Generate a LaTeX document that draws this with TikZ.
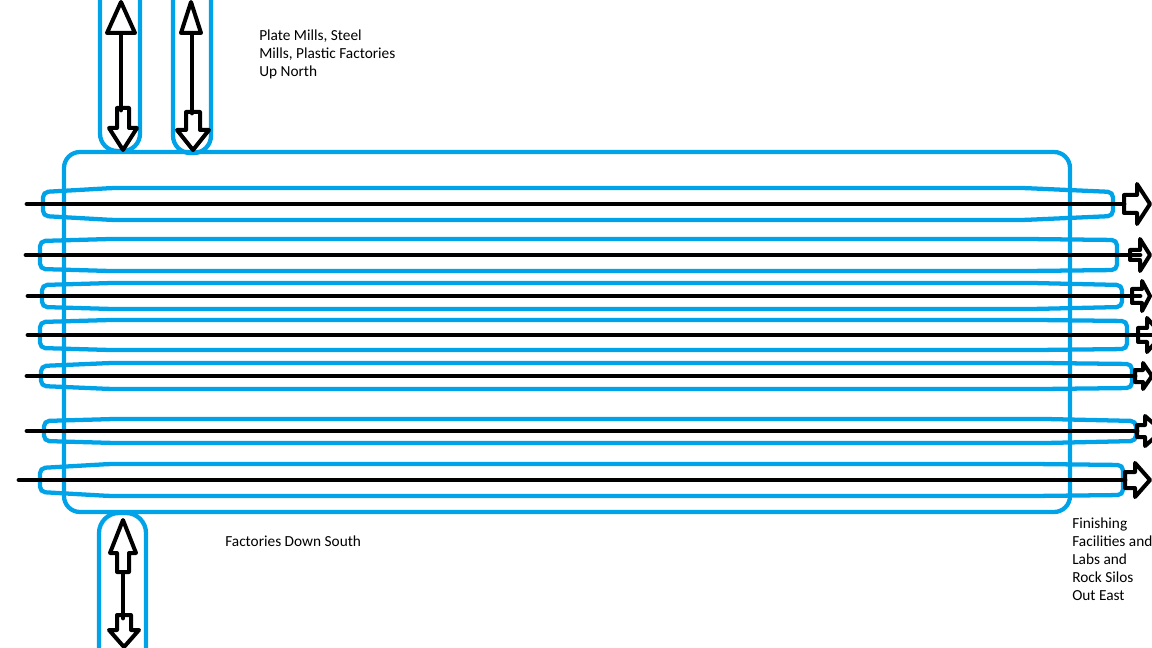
\documentclass[tikz,border=0pt]{standalone}
\usepackage{fontspec}
\setmainfont{Carlito}
\definecolor{paintblue}{RGB}{0,162,232}
\tikzset{
  loop/.style={draw=paintblue, line width=3.2pt, rounded corners=4pt},
  track/.style={draw=black, line width=3.6pt, line cap=round},
  hollow/.style={draw=black, line width=3pt, line join=round, fill=white},
  label/.style={font=\fontsize{11.5}{13.5}\selectfont, align=left, inner sep=0pt, anchor=north west}
}
\begin{document}
\begin{tikzpicture}[x=0.75pt, y=-0.75pt]
  \useasboundingbox (0,0) rectangle (1152,648);
  \clip (0,0) rectangle (1152,648);
  \fill[white] (0,0) rectangle (1152,648);

  \draw[loop, rounded corners=12pt] (64,152) rectangle (1070,512);
  \draw[loop, rounded corners=13pt] (100,-20) -- (100,151) -- (140,151) -- (140,-20);
  \draw[loop, rounded corners=13pt] (173,-20) -- (173,153) -- (211,153) -- (211,-20);
  \draw[loop, rounded corners=15pt] (99,670) -- (99,513) -- (146,513) -- (146,670);

  \foreach \ly/\lx/\le/\pl/\pr/\hl/\hr/\hm [count=\i] in {
      204/27/1124/43/1113/12/12/16,
      255/26/1140/40/1117/14/15/16,
      296/28/1140/42/1122/11/11/13,
      335/28/1152/40/1127/13/14/15,
      376/27/1135/41/1132/10/12/13,
      431/27/1137/44/1136/10/10/12,
      480/19/1125/40/1123/12/15/16} {
    \draw[loop] (\pl,\ly-\hl) -- (\pl+70,\ly-\hm) -- (\pr-90,\ly-\hm) -- (\pr,\ly-\hr)
      -- (\pr,\ly+\hr) -- (\pr-90,\ly+\hm) -- (\pl+70,\ly+\hm) -- (\pl,\ly+\hl) -- cycle;
    \coordinate (w\i) at (\lx,\ly);
    \coordinate (e\i) at (\le,\ly);
    \draw[track] (w\i) -- (e\i);
  }

  \foreach \ay/\xs/\hs/\xh/\hh/\xt in {
      204/1124/9/1137/20/1150,
      255/1130/5/1140/16/1150,
      296/1132/7/1142/15/1150,
      335/1138/7/1147/17/1162,
      376/1135/6/1143/13/1152,
      431/1137/6/1145/15/1162,
      480/1125/8/1135/17/1150} {
    \draw[hollow, fill=none] (\xs,\ay-\hs) -- (\xh,\ay-\hs) -- (\xh,\ay-\hh) -- (\xt,\ay)
      -- (\xh,\ay+\hh) -- (\xh,\ay+\hs) -- (\xs,\ay+\hs) -- cycle;
  }

  \coordinate (n1a) at (121,10);
  \coordinate (n1b) at (121,110);
  \coordinate (n2a) at (192,10);
  \coordinate (n2b) at (192,113);
  \draw[track] (n1a) -- (n1b);
  \draw[track] (n2a) -- (n2b);
  \draw[hollow] (121,2) -- (135,33) -- (107,33) -- cycle;
  \draw[hollow] (191,2) -- (201,33) -- (181,33) -- cycle;
  \draw[hollow, fill=none] (117,108) -- (129,108) -- (129,128) -- (137,128) -- (123,150)
    -- (109,128) -- (117,128) -- cycle;
  \draw[hollow, fill=none] (186,112) -- (200,112) -- (200,130) -- (209,130) -- (193,150)
    -- (177,130) -- (186,130) -- cycle;

  \coordinate (s1a) at (123,565);
  \coordinate (s1b) at (123,618);
  \draw[track] (s1a) -- (s1b);
  \draw[hollow] (123,520) -- (136,553) -- (129,553) -- (129,572) -- (117,572) -- (117,553)
    -- (110,553) -- cycle;
  \draw[hollow, fill=none] (117,615) -- (131,615) -- (131,630) -- (139,630) -- (124,647)
    -- (109,630) -- (117,630) -- cycle;

  \node[label] (north) at (259,30) {Plate Mills, Steel\\Mills, Plastic Factories\\Up North};
  \node[label] (south) at (225,536) {Factories Down South};
  \node[label] (east) at (1072,518) {Finishing\\Facilities and\\Labs and\\Rock Silos\\Out East};
\end{tikzpicture}
\end{document}
